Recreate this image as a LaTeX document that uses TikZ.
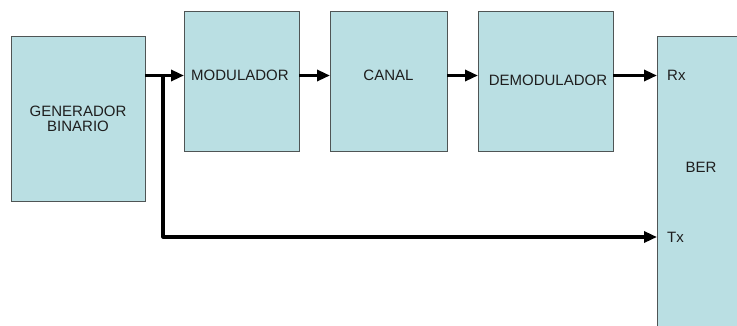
\documentclass[tikz,border=0pt]{standalone}
\usepackage{fontspec}
\setmainfont{Liberation Sans}
\usetikzlibrary{arrows.meta}
\definecolor{boxfill}{HTML}{BADFE3}
\definecolor{boxline}{HTML}{4F5555}
\definecolor{txt}{HTML}{1E1E1E}
\begin{document}
\begin{tikzpicture}[x=1pt,y=-1pt,
  block/.style={draw=boxline,line width=0.9pt,fill=boxfill,inner sep=0pt,outer sep=0pt},
  lbl/.style={inner sep=0pt,text=txt,font=\fontsize{15}{17}\selectfont},
  arr/.style={line width=3.2pt,-{Triangle[length=13pt,width=11pt]}},
  wire/.style={line width=3.2pt,line join=round}]
\useasboundingbox (0,0) rectangle (737,325);
\clip (0,0) rectangle (737,325);
% blocks
\node[block,minimum width=134pt,minimum height=165pt] (gen)   at (78,118.5) {};
\node[block,minimum width=115pt,minimum height=140pt] (mod)   at (241.5,81) {};
\node[block,minimum width=117pt,minimum height=140pt] (canal) at (388.5,81) {};
\node[block,minimum width=135pt,minimum height=140pt] (demod) at (545.5,81) {};
\node[block,minimum width=104pt,minimum height=310pt] (ber)   at (709,191) {};
% texts
\node[lbl,align=center] (tgen) at (78,119) {GENERADOR\\[-2pt]BINARIO};
\node[lbl,anchor=west] (tmod) at (191,75.5) {MODULADOR};
\node[lbl] (tcanal) at (388.5,75.5) {CANAL};
\node[lbl] (tdemod) at (548,80.5) {DEMODULADOR};
\node[lbl,anchor=west] (trx) at (667,75) {Rx};
\node[lbl,anchor=west] (ttx) at (667,237) {Tx};
\node[lbl] (tber) at (701,167) {BER};
% signal rows
\coordinate (rowA) at (0,75.5);
\coordinate (rowB) at (0,237);
\coordinate (split) at (163,75.5);
% connectors
\draw[arr] (gen.east |- rowA) -- (mod.west |- rowA);
\draw[arr] (mod.east |- rowA) -- (canal.west |- rowA);
\draw[arr] (canal.east |- rowA) -- (demod.west |- rowA);
\draw[arr] (demod.east |- rowA) -- (ber.west |- rowA);
\draw[wire,-{Triangle[length=13pt,width=11pt]}] (split) -- (split |- rowB) -- (ber.west |- rowB);
\end{tikzpicture}
\end{document}
